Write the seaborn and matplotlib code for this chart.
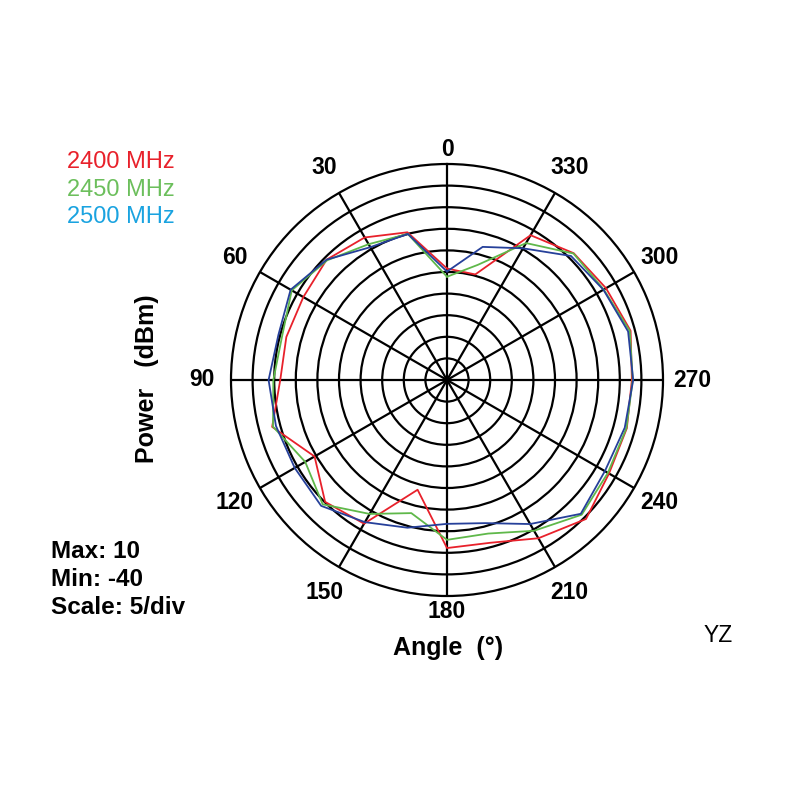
import numpy as np
import pandas as pd
import matplotlib
matplotlib.use("Agg")
import matplotlib.pyplot as plt
import seaborn as sns

# ---- data (dBm), every 15 degrees, 0..345 ----
angles_deg = [0, 15, 30, 45, 60, 75, 90, 105, 120, 135, 150, 165,
              180, 195, 210, 225, 240, 255, 270, 285, 300, 315, 330, 345]
p2400 = [-14.2, -4.6, -1.9, -0.6, -1.6, -1.5, -1.4, 1.9, -4.6, -0.1, -1.6, -13.7,
         -1.1, -1.0, 2.3, 5.5, 3.3, 3.1, 2.8, 4.0, 2.5, 1.5, -1.3, -14.7]
p2450 = [-16.1, -5.0, -3.7, -0.8, 1.5, -0.5, 0.2, 1.7, -2.1, 0.7, -4.2, -8.1,
         -3.0, -3.2, 0.3, 4.1, 3.0, 3.0, 3.0, 3.8, 1.9, 1.4, -3.4, -12.4]
p2500 = [-14.9, -5.0, -4.5, -0.6, 1.8, 0.4, 1.3, 1.0, 0.7, 1.2, -2.0, -4.6,
         -6.7, -5.7, -1.5, 3.8, 2.2, 2.6, 3.1, 3.4, 1.8, 0.6, -4.8, -8.1]
series_names = ["2400 MHz", "2450 MHz", "2500 MHz"]
line_colors = ["#e8212b", "#5fb84a", "#26409a"]
legend_colors = ["#e8212b", "#6cbf5c", "#1aa3e0"]
tick_angles = [0, 30, 60, 90, 120, 150, 180, 210, 240, 270, 300, 330]
ring_values = [-35, -30, -25, -20, -15, -10, -5, 0, 5]
r_min, r_max = -40, 10

# long table, closing each loop
rows = []
for name, vals in zip(series_names, [p2400, p2450, p2500]):
    for a, v in zip(angles_deg + [360], vals + [vals[0]]):
        rows.append({"theta": np.deg2rad(a), "power": v, "freq": name})
df = pd.DataFrame(rows)

sns.set_style("white")
plt.rcParams["font.family"] = ["Liberation Sans", "DejaVu Sans"]
plt.rcParams["text.color"] = "black"

fig = plt.figure(figsize=(8, 8), dpi=100)
ax = fig.add_axes([231/800, 1-596/800, 432/800, 432/800], projection="polar")
ax.set_theta_zero_location("N")
ax.set_theta_direction(1)
ax.set_ylim(r_min, r_max)

sns.lineplot(data=df, x="theta", y="power", hue="freq", palette=line_colors,
             sort=False, estimator=None, legend=False, linewidth=1.3, ax=ax)
ax.set_xlabel("")
ax.set_ylabel("")

# grid
ax.set_yticks(ring_values)
ax.set_yticklabels([])
ax.set_xticks(np.deg2rad(tick_angles))
ax.set_xticklabels([])
ax.grid(True, color="black", linewidth=1.6)
ax.spines["polar"].set_color("black")
ax.spines["polar"].set_linewidth(1.6)

# angle labels
px_per_db = 216 / (r_max - r_min)
for a in tick_angles:
    rad_px = 231 if a in (0, 180) else 245
    ax.text(np.deg2rad(a), r_min + rad_px / px_per_db, str(a), ha="center", va="center",
            fontsize=16.5, fontweight="bold", color="black", clip_on=False)

# legend text
for i, (name, c) in enumerate(zip(series_names, legend_colors)):
    fig.text(67/800, 1 - (162 + 27.5*i)/800, name, color=c, fontsize=17,
             ha="left", va="center")

fig.text(51/800, 1-551/800, "Max: 10", fontsize=17.5, fontweight="bold", va="center")
fig.text(51/800, 1-579/800, "Min: -40", fontsize=17.5, fontweight="bold", va="center")
fig.text(51/800, 1-607/800, "Scale: 5/div", fontsize=17.5, fontweight="bold", va="center")

fig.text(147/800, 1-379/800, "Power   (dBm)", rotation=90, fontsize=18,
         fontweight="bold", ha="center", va="center")
fig.text(448/800, 1-648/800, "Angle  (°)", fontsize=18, fontweight="bold",
         ha="center", va="center")
fig.text(718/800, 1-635/800, "YZ", fontsize=16.5, ha="center", va="center")

fig.savefig("out.png", dpi=100, facecolor="white")
